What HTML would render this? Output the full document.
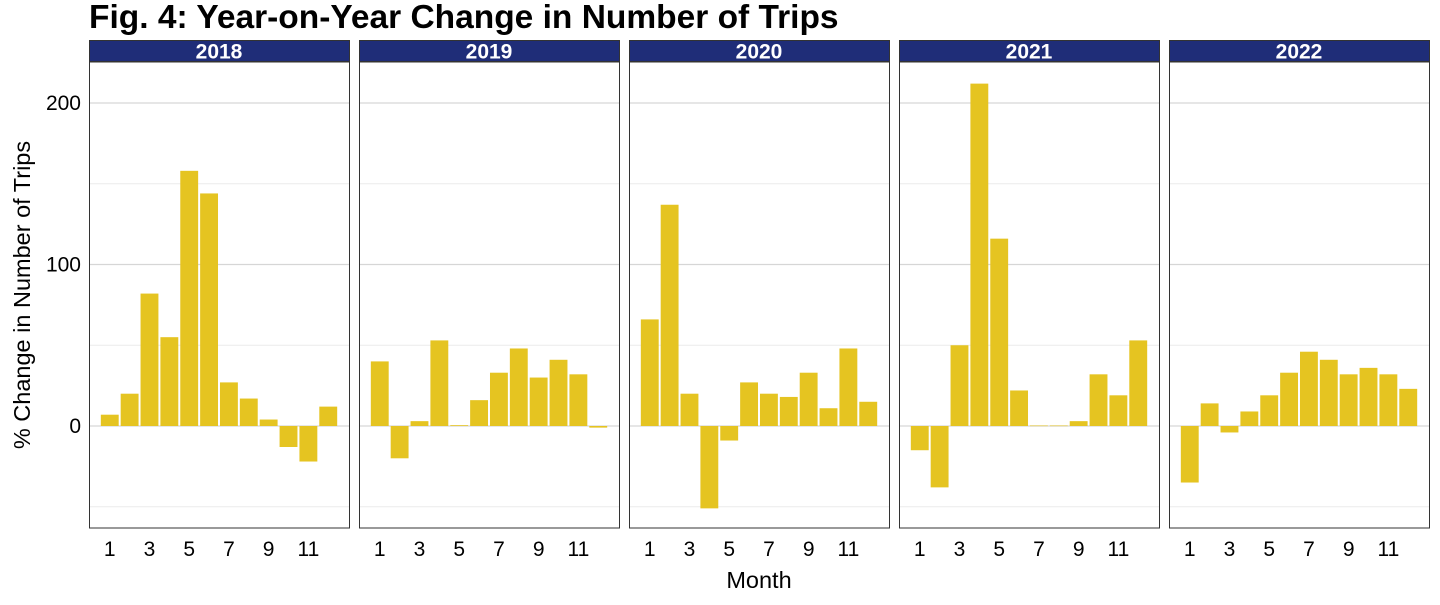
<!DOCTYPE html>
<html><head><meta charset="utf-8"><style>
body{margin:0;background:#fff;font-family:"Liberation Sans",Arial,sans-serif}
</style></head><body>
<svg id="c" width="1440" height="600" xmlns="http://www.w3.org/2000/svg" font-family="Liberation Sans, Arial, sans-serif">
<text x="89" y="28" font-size="33.5" font-weight="bold" fill="#000">Fig. 4: Year-on-Year Change in Number of Trips</text>
<text x="30" y="295" font-size="23.5" text-anchor="middle" transform="rotate(-90 30 295)">% Change in Number of Trips</text>
<text x="759" y="588" font-size="23.5" text-anchor="middle">Month</text>
<g id="panels"></g>
</svg>
<script>
const years=["2018","2019","2020","2021","2022"];
const months=[1,2,3,4,5,6,7,8,9,10,11,12];
const v2018=[7,20,82,55,158,144,27,17,4,-13,-22,12];
const v2019=[40,-20,3,53,0.5,16,33,48,30,41,32,-1];
const v2020=[66,137,20,-51,-9,27,20,18,33,11,48,15];
const v2021=[-15,-38,50,212,116,22,0.3,0.3,3,32,19,53];
const v2022=[-35,14,-4,9,19,33,46,41,32,36,32,23];
const series=[v2018,v2019,v2020,v2021,v2022];
const yTicks=[0,100,200];
const xTicks=[1,3,5,7,9,11];
const NS="http://www.w3.org/2000/svg";
const g=document.getElementById('panels');
const pTop=62,pBot=528,pW=260;
function y(v){return 426-v*1.615;}
function mk(t,a){const e=document.createElementNS(NS,t);for(const k in a)e.setAttribute(k,a[k]);return e;}
yTicks.forEach(t=>{const e=mk('text',{x:81,y:y(t)+7,'font-size':21,'text-anchor':'end',fill:'#000'});e.textContent=t;


g.appendChild(e);});
years.forEach((yr,i)=>{
  const x0=89+i*270;
  function x(m){return x0+(m+0.045)*pW/13.09;}
  const pg=mk('g',{});
  
  
  g.appendChild(pg);
  pg.appendChild(mk('rect',{x:x0,y:pTop,width:pW,height:pBot-pTop,fill:'#fff'}));
  [-50,50,150].forEach(t=>{pg.appendChild(mk('line',{x1:x0,x2:x0+pW,y1:y(t),y2:y(t),stroke:'#ebebeb','stroke-width':1}));});
  yTicks.forEach(t=>{pg.appendChild(mk('line',{x1:x0,x2:x0+pW,y1:y(t),y2:y(t),stroke:'#d6d6d6','stroke-width':1.2}));});
  series[i].forEach((v,j)=>{
    const m=months[j];const bw=0.9*pW/13.09;
    const r=mk('rect',{x:x(m)-bw/2,y:Math.min(y(v),y(0)),width:bw,height:Math.max(Math.abs(y(v)-y(0)),0.6),fill:'#e5c421'});
    
    
    pg.appendChild(r);
  });
  pg.appendChild(mk('rect',{x:x0+0.5,y:pTop,width:pW,height:pBot-pTop,fill:'none',stroke:'#333','stroke-width':1}));
  const s=mk('rect',{x:x0+0.5,y:40.5,width:pW,height:21,fill:'#1f2d78',stroke:'#333','stroke-width':1});
  
  
  pg.appendChild(s);
  const st=mk('text',{x:x0+pW/2,y:58.5,'font-size':21,'font-weight':'bold',fill:'#fff','text-anchor':'middle'});st.textContent=yr;
  
  
  pg.appendChild(st);
  xTicks.forEach(t=>{const e=mk('text',{x:x(t),y:556,'font-size':21,'text-anchor':'middle',fill:'#000'});e.textContent=t;
    
    
    pg.appendChild(e);});
});
</script>
</body></html>
